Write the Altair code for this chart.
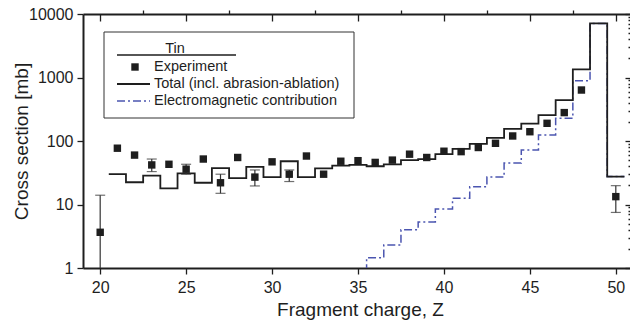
import altair as alt
import pandas as pd

FONT = "Liberation Sans"
INK = "#1e1e1e"
BLUE = "#4b55b0"

# ---- data ----
Z_exp = [20, 21, 22, 23, 24, 25, 26, 27, 28, 29, 30, 31, 32, 33, 34, 35, 36, 37, 38, 39,
         40, 41, 42, 43, 44, 45, 46, 47, 48, 50]
sigma_exp = [3.65, 77, 60, 42, 43, 36, 52, 22, 55, 27, 47, 30, 58, 30, 48, 49, 46, 50, 62, 55,
             69, 68, 79, 92, 120, 140, 190, 280, 635, 13.3]

err_Z = [20, 23, 25, 27, 29, 31, 50]
err_lo = [0.3, 33, 30, 15, 19.6, 23, 7.5]
err_hi = [14, 52, 43, 30, 35, 35, 19.8]

Z_total = list(range(21, 51))
sigma_total = [30, 22.4, 28.4, 18, 31, 22, 37.5, 26, 39, 27, 48, 27, 37, 41, 42, 40, 43, 50, 52,
               62, 75, 90, 112, 155, 188, 255, 440, 1340, 7100, 27.5]

Z_em = list(range(35, 51))
sigma_em = [0.5, 1.45, 2.3, 4.0, 5.3, 8.5, 12.5, 19, 27, 45, 72, 124, 228, 890, 7100, 27.5]

x_major = [20, 25, 30, 35, 40, 45, 50]
x_minor = [22.5, 27.5, 32.5, 37.5, 42.5, 47.5]
y_major = [1, 10, 100, 1000, 10000]
y_minor = [m * d for d in [1, 10, 100, 1000] for m in range(2, 10)]

legend_title = "Tin"
legend_labels = ["Experiment", "Total (incl. abrasion-ablation)", "Electromagnetic contribution"]

# ---- tables ----
df_exp = pd.DataFrame({"Z": Z_exp, "sigma": sigma_exp})
df_err = pd.DataFrame({"Z": err_Z, "lo": err_lo, "hi": err_hi})
df_total = pd.DataFrame({"edge": [z - 0.5 for z in Z_total] + [Z_total[-1] + 0.5],
                         "sigma": sigma_total + [sigma_total[-1]]})
df_em = pd.DataFrame({"edge": [z - 0.5 for z in Z_em] + [Z_em[-1] + 0.5],
                      "sigma": sigma_em + [sigma_em[-1]]})
one = pd.DataFrame({"a": [0]})

W, H, XR = 547, 254, 550
xs = alt.Scale(domain=[19, 51], range=[0, XR], nice=False, zero=False)
ys = alt.Scale(type="log", domain=[1, 10000], nice=False)

common = dict(grid=False, tickColor=INK, domainColor=INK, tickWidth=1.3, domainWidth=2,
              labelColor=INK, labelFont=FONT, titleFont=FONT, titleColor=INK)

ax_x_main = alt.Axis(values=x_major, tickSize=6, labelFontSize=16, labelPadding=5,
                     title="Fragment charge, Z", titleFontSize=19, titleFontWeight="normal",
                     titleX=277, titleY=47, titleBaseline="alphabetic", **common)
ax_x_minor = alt.Axis(values=x_minor, tickSize=4, labels=False, domain=False, title=None, **common)
ax_x_top = alt.Axis(orient="bottom", offset=-H, values=x_major, tickSize=7, labels=False,
                    title=None, **common)
ax_y_main = alt.Axis(values=y_major, tickSize=6, format="d", labelFontSize=16, labelPadding=4,
                     title="Cross section [mb]", titleFontSize=19, titleFontWeight="normal",
                     titleX=-56, titleY=H / 2, titleBaseline="alphabetic", **common)
ax_y_minor = alt.Axis(values=y_minor, tickSize=3.5, labels=False, domain=False, title=None, **common)
ax_y_right = alt.Axis(orient="left", offset=-XR, values=y_major, tickSize=8, labels=False,
                      domain=False, title=None, **common)
ax_y_right_minor = alt.Axis(orient="left", offset=-XR, values=y_minor, tickSize=5, labels=False,
                            domain=False, title=None, **common)


def axis_layer(xax, yax):
    return alt.Chart(df_total).mark_point(opacity=0).encode(
        x=alt.X("edge:Q", scale=xs, axis=xax),
        y=alt.Y("sigma:Q", scale=ys, axis=yax),
    )


axes = [
    axis_layer(ax_x_main, ax_y_main),
    axis_layer(ax_x_minor, ax_y_minor),
    axis_layer(ax_x_top, ax_y_right),
    axis_layer(None, ax_y_right_minor),
]

total = alt.Chart(df_total).mark_line(interpolate="step-after", clip=True, color=INK,
                                      strokeWidth=1.8).encode(
    x=alt.X("edge:Q", scale=xs, axis=None), y=alt.Y("sigma:Q", scale=ys, axis=None))

em = alt.Chart(df_em).mark_line(interpolate="step-after", clip=True, color=BLUE,
                                strokeWidth=1.5, strokeDash=[8, 3, 2, 3]).encode(
    x=alt.X("edge:Q", scale=xs, axis=None), y=alt.Y("sigma:Q", scale=ys, axis=None))

err_rule = alt.Chart(df_err).mark_rule(clip=True, color="#333", strokeWidth=1.2).encode(
    x=alt.X("Z:Q", scale=xs, axis=None), y=alt.Y("lo:Q", scale=ys, axis=None), y2="hi:Q")
cap_hi = alt.Chart(df_err).mark_tick(clip=True, orient="horizontal", size=10, thickness=1.2,
                                     color="#333").encode(
    x=alt.X("Z:Q", scale=xs, axis=None), y=alt.Y("hi:Q", scale=ys, axis=None))
cap_lo = alt.Chart(df_err).mark_tick(clip=True, orient="horizontal", size=10, thickness=1.2,
                                     color="#333").encode(
    x=alt.X("Z:Q", scale=xs, axis=None), y=alt.Y("lo:Q", scale=ys, axis=None))

pts = alt.Chart(df_exp).mark_square(size=55, color=INK, opacity=1, clip=True).encode(
    x=alt.X("Z:Q", scale=xs, axis=None), y=alt.Y("sigma:Q", scale=ys, axis=None))

# ---- legend (drawn by hand, as in the reference) ----
lg = []
lg.append(alt.Chart(one).mark_rect(fill="white", stroke="#333", strokeWidth=1).encode(
    x=alt.value(21), x2=alt.value(271), y=alt.value(18), y2=alt.value(104)))
lg.append(alt.Chart(one).mark_text(font=FONT, fontSize=14.5, color=INK, align="center",
                                   baseline="alphabetic").encode(
    x=alt.value(92), y=alt.value(39), text=alt.value(legend_title)))
lg.append(alt.Chart(one).mark_rule(color=INK, strokeWidth=1.5).encode(
    x=alt.value(34), x2=alt.value(153), y=alt.value(41)))
lg.append(alt.Chart(one).mark_square(size=55, color=INK, opacity=1).encode(
    x=alt.value(52), y=alt.value(53)))
lg.append(alt.Chart(one).mark_rule(color=INK, strokeWidth=1.8).encode(
    x=alt.value(34), x2=alt.value(67), y=alt.value(70)))
lg.append(alt.Chart(one).mark_rule(color=BLUE, strokeWidth=1.5, strokeDash=[8, 3, 2, 3]).encode(
    x=alt.value(34), x2=alt.value(67), y=alt.value(87)))
for yy, lab in zip([53, 70, 87], legend_labels):
    lg.append(alt.Chart(one).mark_text(font=FONT, fontSize=14.5, color=INK, align="left",
                                       baseline="middle").encode(
        x=alt.value(71), y=alt.value(yy), text=alt.value(lab)))

chart = alt.layer(*axes, em, total, err_rule, cap_hi, cap_lo, pts, *lg).resolve_axis(
    x="independent", y="independent"
).properties(
    width=W, height=H,
    autosize=alt.AutoSizeParams(type="none"),
    padding={"left": 83, "top": 14, "right": 0, "bottom": 54},
    background="white",
).configure_view(stroke=None)

chart.save("out.html", embed_options={"renderer": "svg", "actions": False})
